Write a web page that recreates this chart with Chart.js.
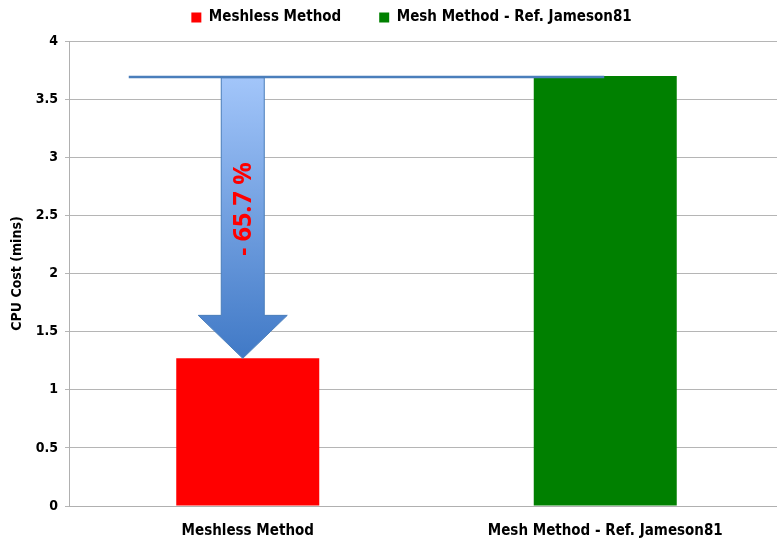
<!DOCTYPE html>
<html>
<head>
<meta charset="utf-8">
<script src="https://cdn.jsdelivr.net/npm/chart.js@4/dist/chart.umd.min.js"></script>
<style>
  html, body { margin: 0; padding: 0; background: #fff; overflow: hidden; }
  #wrap { position: relative; width: 784px; height: 539px; }
</style>
</head>
<body>
<div id="wrap"><canvas id="c"></canvas></div>
<script>
// CPU cost comparison, minutes
const categories = ['Meshless Method', 'Mesh Method - Ref. Jameson81'];
const seriesNames = ['Meshless Method', 'Mesh Method - Ref. Jameson81'];
const meshlessCost = [1.27, null];
const meshCost = [null, 3.7];
const yTicks = [0, 0.5, 1, 1.5, 2, 2.5, 3, 3.5, 4];

const FONT = '"Liberation Sans Narrow", "DejaVu Sans Condensed", "Liberation Sans", sans-serif';

// Reduction arrow from the mesh-method level down to the meshless bar, with its percentage
const reductionArrow = {
  id: 'reductionArrow',
  afterDatasetsDraw(chart) {
    const { ctx } = chart;
    const x = chart.scales.x, y = chart.scales.y;
    const hi = meshCost[1], lo = meshlessCost[0];
    const yHi = y.getPixelForValue(hi);
    const yLo = y.getPixelForValue(lo);
    const cx = x.getPixelForValue(0) - 5;
    const shaftHalf = 21.5, headHalf = 44.5, headLen = 43;

    // reference level line
    ctx.save();
    ctx.strokeStyle = '#4a7ebb';
    ctx.lineWidth = 2.5;
    ctx.beginPath();
    ctx.moveTo(x.getPixelForValue(0) - 119, yHi + 1);
    ctx.lineTo(x.getPixelForValue(1) - 1, yHi + 1);
    ctx.stroke();

    // arrow body
    const g = ctx.createLinearGradient(0, yHi, 0, yLo);
    g.addColorStop(0, '#a3c6fa');
    g.addColorStop(1, '#4079c6');
    ctx.fillStyle = g;
    ctx.strokeStyle = '#4a7ebb';
    ctx.lineWidth = 1;
    ctx.beginPath();
    ctx.moveTo(cx - shaftHalf, yHi + 2);
    ctx.lineTo(cx + shaftHalf, yHi + 2);
    ctx.lineTo(cx + shaftHalf, yLo - headLen);
    ctx.lineTo(cx + headHalf, yLo - headLen);
    ctx.lineTo(cx, yLo);
    ctx.lineTo(cx - headHalf, yLo - headLen);
    ctx.lineTo(cx - shaftHalf, yLo - headLen);
    ctx.closePath();
    ctx.fill();
    ctx.stroke();

    // percentage label
    const pct = ((1 - lo / hi) * 100).toFixed(1);
    ctx.translate(cx + 1, 209);
    ctx.rotate(-Math.PI / 2);
    ctx.fillStyle = '#ff0000';
    ctx.font = 'bold 25px "Open Sans", "Liberation Sans", sans-serif';
    ctx.textAlign = 'center';
    ctx.textBaseline = 'middle';
    ctx.fillText('- ' + pct + ' %', 0, 0);
    ctx.restore();
  }
};

new Chart(document.getElementById('c'), {
  type: 'bar',
  data: {
    labels: categories,
    datasets: [
      { label: seriesNames[0], data: meshlessCost, backgroundColor: '#ff0000', borderWidth: 0 },
      { label: seriesNames[1], data: meshCost, backgroundColor: '#008000', borderWidth: 0 }
    ]
  },
  options: {
    responsive: true,
    maintainAspectRatio: false,
    animation: false,
    devicePixelRatio: 1,
    layout: { padding: { top: -28, right: 0, left: 39, bottom: 0 } },
    datasets: { bar: { categoryPercentage: 1.0, barPercentage: 0.4 } },
    plugins: {
      tooltip: { enabled: false },
      // empty spacer between legend and plot
      title: {
        display: true, text: '', position: 'top', weight: 500,
        font: { size: 1, lineHeight: 1 }, padding: { top: 0, bottom: 5 }
      },
      legend: {
        position: 'top',
        labels: {
          boxWidth: 10, boxHeight: 10, padding: 38,
          color: '#000',
          font: { family: FONT, size: 15, weight: 'bold' }
        }
      }
    },
    scales: {
      x: {
        stacked: true,
        grid: { display: false },
        border: { color: '#b0b0b0' },
        ticks: { color: '#000', padding: 8, font: { family: FONT, size: 15, weight: 'bold' } },
        afterFit(s) { s.height = 33; }
      },
      y: {
        stacked: true,
        min: 0, max: 4,
        afterBuildTicks(s) { s.ticks = yTicks.map(v => ({ value: v })); },
        grid: { color: '#b5b5b5', tickLength: 4, drawTicks: true },
        border: { color: '#b0b0b0' },
        ticks: {
          color: '#000', padding: 7,
          font: { family: FONT, size: 14, weight: 'bold' },
          callback: v => String(v)
        },
        title: {
          display: true, text: 'CPU Cost (mins)', color: '#000',
          font: { family: FONT, size: 14, weight: 'bold' }, padding: { top: -30, bottom: 0 }
        },
        afterFit(s) {
          s.width = 30;
          s._computeLabelArea = () => null; // let tick labels extend past the narrow axis box
        }
      }
    }
  },
  plugins: [reductionArrow]
});
</script>
</body>
</html>
